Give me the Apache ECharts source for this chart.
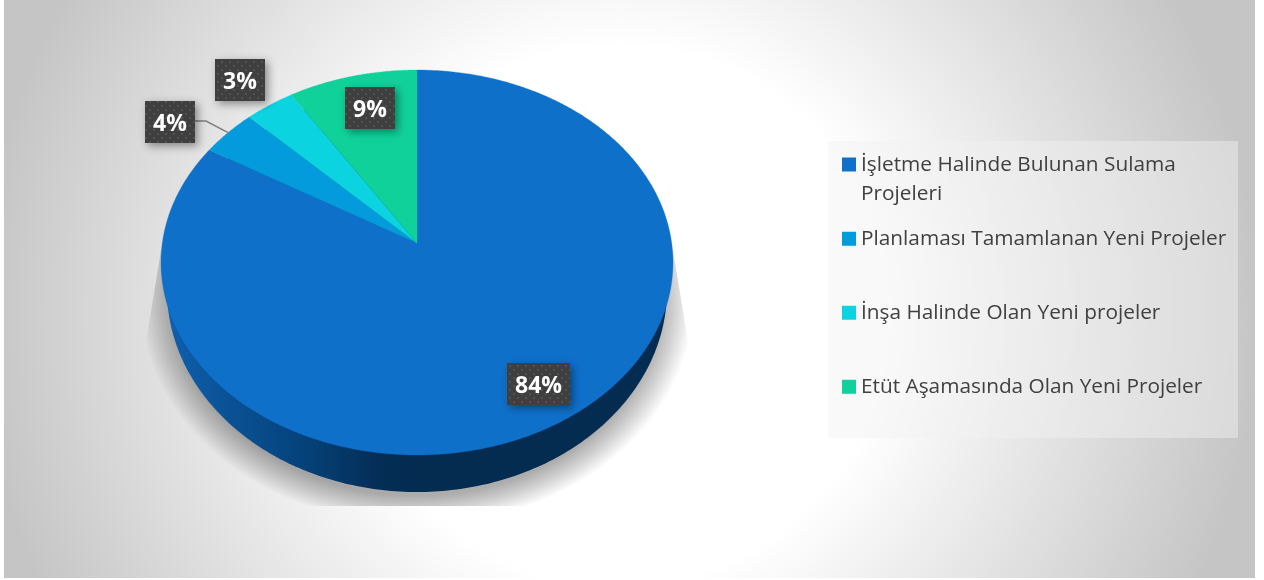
<!DOCTYPE html>
<html><head><meta charset="utf-8">
<style>
html,body{margin:0;padding:0;background:#fff;width:1264px;height:580px;overflow:hidden}
#frame{position:absolute;left:4px;top:0;width:1251px;height:578px;
background:radial-gradient(ellipse 640px 640px at 615px 315px,#ffffff 42%,#c5c5c5 100%)}
#main{position:absolute;left:0;top:0;width:1264px;height:580px}
</style>
<script src="https://cdn.jsdelivr.net/npm/echarts@6/dist/echarts.min.js"></script>
</head><body>
<div id="frame"></div>
<div id="main"></div>
<script>
const categories = ['İşletme Halinde Bulunan Sulama Projeleri','Planlaması Tamamlanan Yeni Projeler','İnşa Halinde Olan Yeni projeler','Etüt Aşamasında Olan Yeni Projeler'];
const values = [83.6, 3.95, 3.45, 9.0];
const colors = ['#0F70CA','#039BDB','#0CD3E0','#10D19A'];

// Layout of the tilted disc
const E = {cx:417, cy:262.5, rx:256, ry:192.5, d:0.1};
const total = values.reduce((a,b)=>a+b,0);
// clock-wise fraction from 12 o'clock -> rim point, with perspective shift of the apex
function rim(frac){
  const t = frac*2*Math.PI, p = Math.sin(t), q = -Math.cos(t), k = 1-E.d*q;
  return [E.cx + E.rx*p*Math.sqrt(1-E.d*E.d)/k, E.cy + E.ry*(q-E.d)/k];
}
const apex = [E.cx, E.cy - E.ry*E.d];
// slices are ordered clock-wise from 12 o'clock
function startOf(i){ let s=0; for(let j=0;j<i;j++) s+=values[j]; return s/total; }

const labelBoxes = [
  {x:507,y:363,w:63},{x:145,y:101,w:50},{x:215,y:59,w:50},{x:345,y:87,w:50}
];
const BOX_H = 42;

const tile = document.createElement('canvas');
tile.width = 8; tile.height = 8;
(function(){
  const c = tile.getContext('2d');
  c.fillStyle='#3f3f3f'; c.fillRect(0,0,8,8);
  c.fillStyle='#525252'; c.fillRect(1,1,2,2); c.fillRect(5,5,2,2);
})();

function renderSlice(i){
  return function(params, api){
    const v = api.value(0);
    const a = startOf(i), b = a + v/total;
    const pts = [apex];
    const n = Math.max(2, Math.ceil((b-a)*720));
    for(let k=0;k<=n;k++) pts.push(rim(a+(b-a)*k/n));
    const box = labelBoxes[i];
    const children = [{
      type:'polygon', shape:{points:pts},
      style:{fill:colors[i], stroke:colors[i], lineWidth:0.3}
    }];
    if(i===1){
      const m = rim((a+b)/2);
      children.push({type:'polyline',
        shape:{points:[[box.x+box.w,box.y+20],[box.x+box.w+11,box.y+20],m]},
        style:{stroke:'#7f7f7f',lineWidth:1.5,fill:null}});
    }
    children.push({type:'rect',
      shape:{x:box.x,y:box.y,width:box.w,height:BOX_H},
      style:{fill:{image:tile,repeat:'repeat'},shadowBlur:8,shadowOffsetX:3,shadowOffsetY:3,shadowColor:'rgba(0,0,0,0.4)'}});
    children.push({type:'text',
      style:{text:Math.round(v/total*100)+'%',x:box.x+box.w/2,y:box.y+BOX_H/2+2,align:'center',verticalAlign:'middle',
        fill:'#fff',font:'bold 23px "Open Sans"'}});
    return {type:'group',children};
  };
}

const series = categories.map((name,i)=>({
  type:'custom', name, coordinateSystem:'none', clip:false, z:5+(i===0?0:1),
  silent:true, animation:false,
  itemStyle:{color:colors[i]},
  renderItem:renderSlice(i),
  data:[[values[i]]]
}));

// lower edge of the disc, seen as a wall under the top face
const wall = [];
for(let k=0;k<360;k++){const t=k*Math.PI/180; wall.push([417+250*Math.cos(t),290+202*Math.sin(t)]);}
// ground shadow: normalised around its own centre, cut flat at the bottom
const SH = {x:417,y:300,sx:277,sy:225,cut:506};
const cutQ = (SH.cut-SH.y)/SH.sy;
const shadow = [[(161-SH.x)/SH.sx+0.0,(250-SH.y)/SH.sy],[(143-SH.x)/SH.sx,(360-SH.y)/SH.sy]];
(function(){
  const q0=(360-SH.y)/SH.sy;
  for(let a=Math.asin(q0);a<Math.PI/2;a+=0.02){
    const q=Math.sin(a); if(q>cutQ) break;
    shadow.push([-Math.cos(a),q]);
  }
  const pc=Math.sqrt(1-cutQ*cutQ);
  shadow.push([-pc,cutQ],[pc,cutQ]);
  for(let a=Math.asin(cutQ);a>Math.asin(q0);a-=0.02){
    shadow.push([Math.cos(a),Math.sin(a)]);
  }
  shadow.push([(691-SH.x)/SH.sx,(360-SH.y)/SH.sy],[(673-SH.x)/SH.sx,(250-SH.y)/SH.sy]);
})();

const legendTop = [150,224,298,372];
const legends = categories.map((name,i)=>({
  data:[name], orient:'vertical', left:842, top:legendTop[i], padding:0,
  selectedMode:false, itemWidth:14, itemHeight:i===0?44:14,
  icon:i===0?'path://M0 0H14V14H0Z M0 44L0 44':'rect',
  formatter:n=>n.replace('Sulama Projeleri','Sulama\nProjeleri'),
  textStyle:{color:'#404040',fontFamily:'"Open Sans"',fontSize:20.8,lineHeight:29.5}
}));

const chart = echarts.init(document.getElementById('main'),null,{renderer:'canvas'});
chart.setOption({
  animation:false,
  backgroundColor:'transparent',
  tooltip:{show:false},
  legend:legends,
  graphic:[
    {type:'rect',z:0,shape:{x:828,y:141,width:410,height:297},style:{fill:'rgba(242,242,242,0.45)'},silent:true},
    {type:'polygon',z:1,x:SH.x,y:SH.y,scaleX:SH.sx,scaleY:SH.sy,shape:{points:shadow},silent:true,
      style:{fill:{type:'radial',x:0,y:0,r:1,global:true,colorStops:[
        {offset:0,color:'rgba(0,0,0,0.32)'},{offset:0.87,color:'rgba(0,0,0,0.32)'},
        {offset:0.93,color:'rgba(0,0,0,0.18)'},{offset:1,color:'rgba(0,0,0,0)'}]}}},
    {type:'polygon',z:2,shape:{points:wall},silent:true,
      style:{fill:{type:'linear',x:0,y:0,x2:1,y2:0,colorStops:[
        {offset:0,color:'#0F60AE'},{offset:0.1,color:'#0B5499'},{offset:0.25,color:'#05457F'},
        {offset:0.42,color:'#042E57'},{offset:0.5,color:'#042B50'},{offset:1,color:'#042B50'}]}}}
  ],
  series
});
</script>
</body></html>
